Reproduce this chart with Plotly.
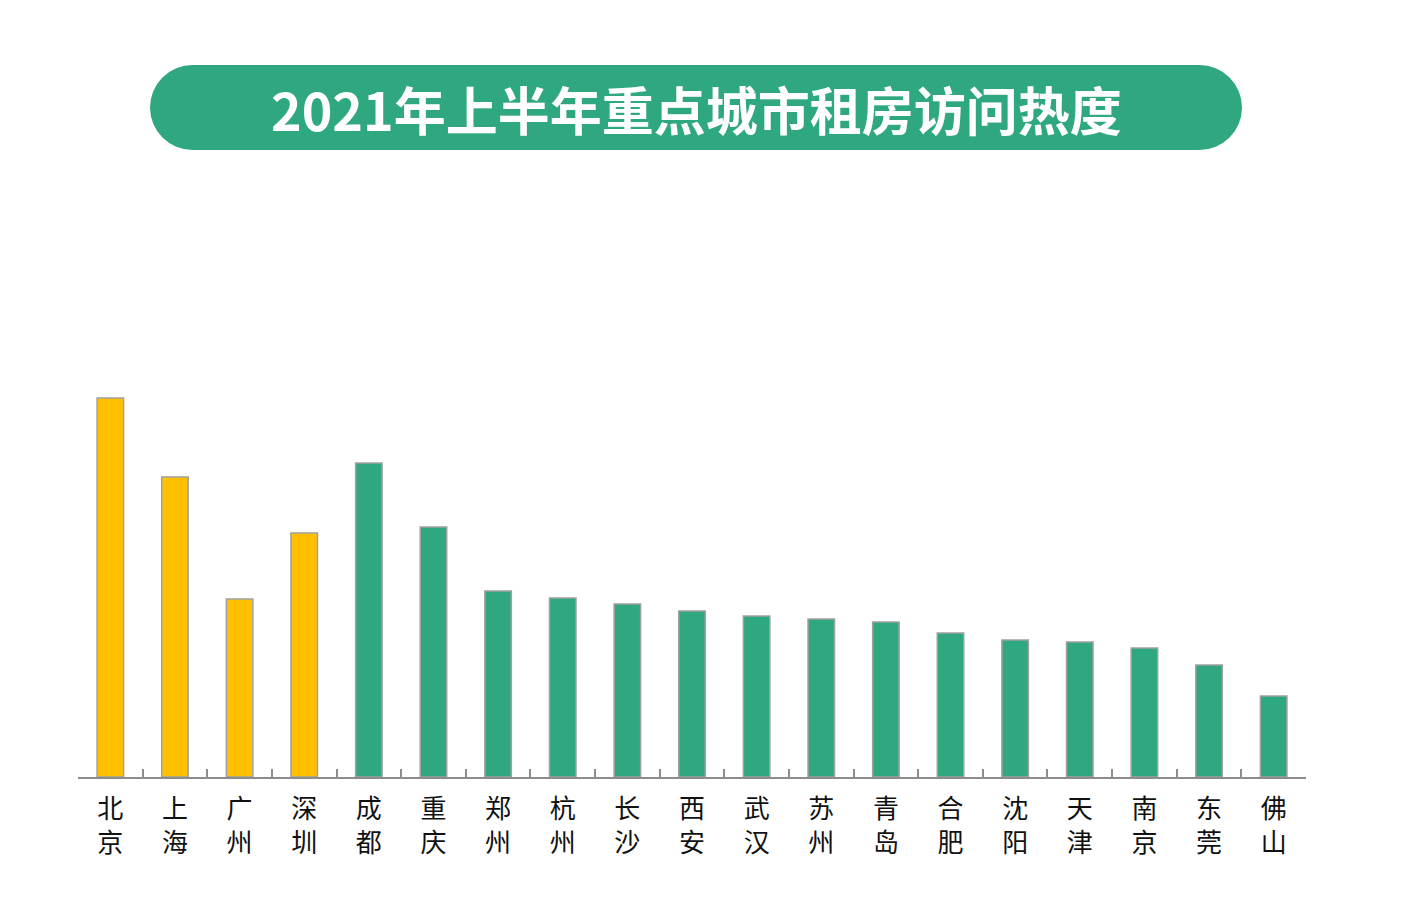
import plotly.graph_objects as go

cities = ["北京", "上海", "广州", "深圳", "成都", "重庆", "郑州", "杭州", "长沙", "西安",
          "武汉", "苏州", "青岛", "合肥", "沈阳", "天津", "南京", "东莞", "佛山"]
heat = [379, 300, 178, 244, 314, 250, 186, 179, 173, 166,
        161, 158, 155, 144, 137, 135, 129, 112, 81]
tier1 = ["北京", "上海", "广州", "深圳"]
tick_labels = ["<br>".join(c) for c in cities]

YELLOW = "#FFC000"
GREEN = "#2FA882"
colors = [YELLOW if c in tier1 else GREEN for c in cities]

OFF = 8  # page body margin
W, H = 1405, 913
# plot area in page pixels: x 78..1306, y 200..777
L = 78 - OFF
R = W - (1306 - OFF)
T = 200 - OFF
B = H - (777 - OFF)
pw, ph = W - L - R, H - T - B

def px(x):
    return (x - OFF - L) / pw

def py(y):
    return (H - B - (y - OFF)) / ph

fig = go.Figure(go.Bar(
    x=cities, y=heat,
    marker=dict(color=colors, line=dict(color="#A0A0A0", width=1.5)),
    width=0.41,
    hoverinfo="x+y",
))

fig.update_layout(
    width=W, height=H,
    margin=dict(l=L, r=R, t=T, b=B),
    paper_bgcolor="white", plot_bgcolor="white",
    showlegend=False,
    font=dict(family="Noto Sans CJK SC", color="#222222"),
    xaxis=dict(
        type="category", range=[-0.5, len(cities) - 0.5],
        tickmode="array", tickvals=cities, ticktext=tick_labels,
        tickfont=dict(size=26, family="Noto Sans CJK SC", color="#111111"),
        ticklabelstandoff=8,
        showline=True, linecolor="#8C8C8C", linewidth=2,
        ticks="inside", tickson="boundaries", ticklen=8, tickwidth=1.5, tickcolor="#8C8C8C",
        showgrid=False, zeroline=False,
    ),
    yaxis=dict(range=[0, ph], visible=False, showgrid=False, zeroline=False),
)

# title pill
top, bot, left, right = 65, 150, 150, 1242
rad = (bot - top) / 2
fig.add_shape(type="rect", xref="paper", yref="paper",
              x0=px(left + rad), x1=px(right - rad), y0=py(bot), y1=py(top),
              fillcolor=GREEN, line=dict(width=0), layer="below")
fig.add_shape(type="circle", xref="paper", yref="paper",
              x0=px(left), x1=px(left + 2 * rad), y0=py(bot), y1=py(top),
              fillcolor=GREEN, line=dict(width=0), layer="below")
fig.add_shape(type="circle", xref="paper", yref="paper",
              x0=px(right - 2 * rad), x1=px(right), y0=py(bot), y1=py(top),
              fillcolor=GREEN, line=dict(width=0), layer="below")
fig.add_annotation(text="<b>2021年上半年重点城市租房访问热度</b>",
                   xref="paper", yref="paper", x=px(696), y=py(108),
                   xanchor="center", yanchor="middle", showarrow=False,
                   font=dict(size=52, color="white", family="Noto Sans CJK SC"))

fig.write_html("out.html")
